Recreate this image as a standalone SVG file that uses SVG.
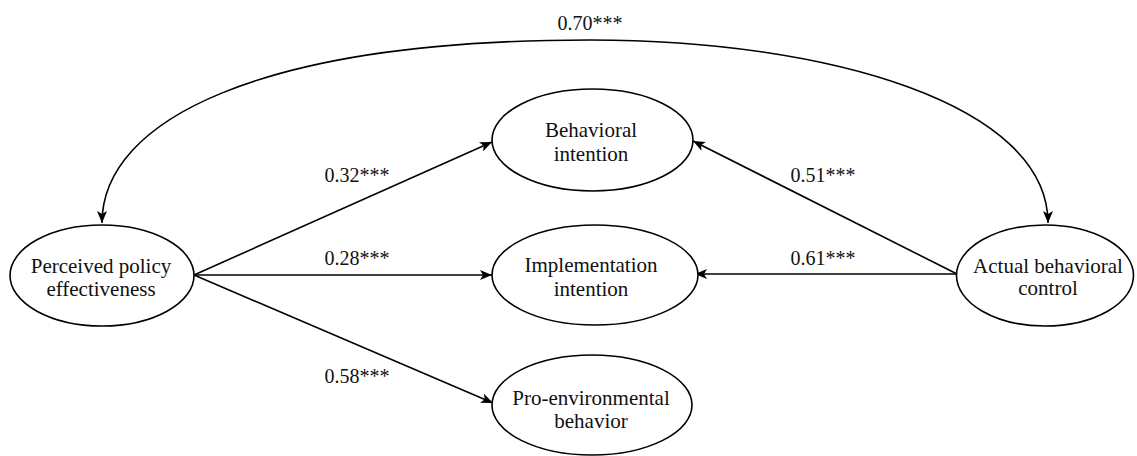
<svg xmlns="http://www.w3.org/2000/svg" width="1137" height="456" viewBox="0 0 1137 456">
<style>
.node ellipse{fill:#fff;stroke:#000;stroke-width:1.6}
.node text{font-family:"Liberation Serif","Times New Roman",serif;font-size:21px;fill:#111;text-anchor:middle}
.edges path,.edges line{stroke:#000;stroke-width:1.6;fill:none}
.lbl{font-family:"Liberation Serif","Times New Roman",serif;font-size:20px;fill:#111;text-anchor:middle}
</style>
<defs>
<marker id="ah" viewBox="0 0 12 10" refX="12" refY="5" markerWidth="12" markerHeight="10" markerUnits="userSpaceOnUse" orient="auto">
<path d="M0,0 L12,5 L0,10 L3,5 Z" fill="#000"/>
</marker>
</defs>
<rect width="1137" height="456" fill="#fff"/>
<g class="edges">
<path d="M590,40 C260,40 102,120 102,223" marker-end="url(#ah)"/>
<path d="M590,40 C830,40 1048,105 1048,223" marker-end="url(#ah)"/>
<line x1="194" y1="275" x2="492" y2="142" marker-end="url(#ah)"/>
<line x1="194" y1="275" x2="492" y2="275" marker-end="url(#ah)"/>
<line x1="194" y1="275" x2="493" y2="403" marker-end="url(#ah)"/>
<line x1="957" y1="274" x2="693" y2="141" marker-end="url(#ah)"/>
<line x1="957" y1="274" x2="695" y2="274" marker-end="url(#ah)"/>
<text class="lbl" x="590" y="30">0.70***</text>
<text class="lbl" x="357" y="182">0.32***</text>
<text class="lbl" x="357" y="265">0.28***</text>
<text class="lbl" x="357" y="383">0.58***</text>
<text class="lbl" x="823" y="182">0.51***</text>
<text class="lbl" x="823" y="265">0.61***</text>
</g>
<g id="ppe" class="node">
<ellipse cx="102" cy="275.5" rx="92" ry="50.5"/>
<text x="101" y="273">Perceived policy</text>
<text x="101" y="296">effectiveness</text>
</g>
<g id="bi" class="node">
<ellipse cx="592.5" cy="140" rx="100.5" ry="51"/>
<text x="591" y="137">Behavioral</text>
<text x="591" y="161">intention</text>
</g>
<g id="ii" class="node">
<ellipse cx="595" cy="275" rx="103" ry="50"/>
<text x="591" y="272">Implementation</text>
<text x="591" y="296">intention</text>
</g>
<g id="peb" class="node">
<ellipse cx="592" cy="405" rx="100" ry="50"/>
<text x="591" y="405">Pro-environmental</text>
<text x="591" y="428">behavior</text>
</g>
<g id="abc" class="node">
<ellipse cx="1045" cy="275.5" rx="88.5" ry="50.5"/>
<text x="1048" y="273">Actual behavioral</text>
<text x="1048" y="295">control</text>
</g>
</svg>
